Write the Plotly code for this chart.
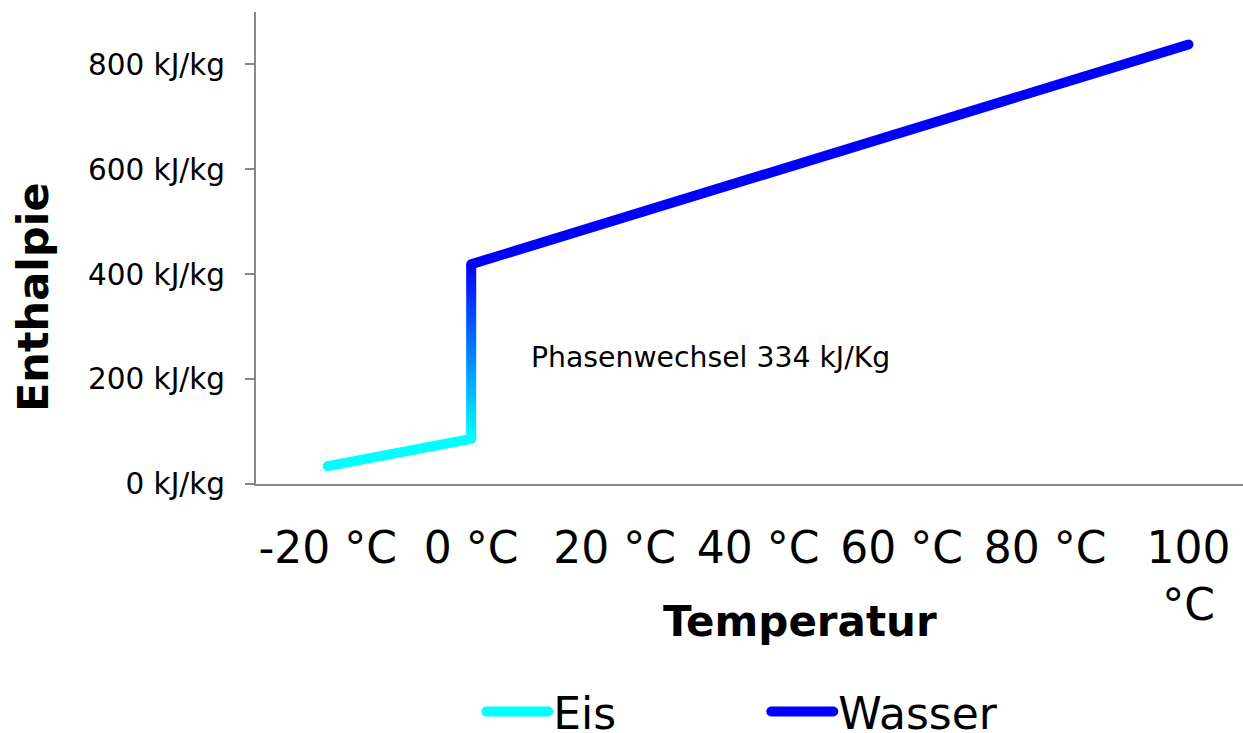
import plotly.graph_objects as go

# Temperatur (°C) und spezifische Enthalpie (kJ/kg)
eis_temp = [-20, 0]
eis_enthalpie = [34, 86]

wasser_temp = [0, 20, 40, 60, 80, 100]
wasser_enthalpie = [419, 503, 587, 670, 754, 838]

# Schmelzen bei 0 °C
phase_temp = [0, 0]
phase_enthalpie = [86, 419]

x_tickvals = [-20, 0, 20, 40, 60, 80, 100]
x_ticktext = ["-20 °C", "0 °C", "20 °C", "40 °C", "60 °C", "80 °C", "100<br>°C"]
y_tickvals = [0, 200, 400, 600, 800]
y_ticktext = ["0 kJ/kg", "200 kJ/kg", "400 kJ/kg", "600 kJ/kg", "800 kJ/kg"]

FONT = "DejaVu Sans"
AXIS_GREY = "#868686"
CYAN = "#00FFFF"
BLUE = "#0000FF"
LINE_W = 10

fig = go.Figure()

# Senkrechter Abschnitt als schmales Band mit Farbverlauf Cyan -> Blau
half_w = 0.7
px0, px1 = phase_temp
py0, py1 = phase_enthalpie
fig.add_trace(go.Scatter(
    x=[px0 - half_w, px0 + half_w, px1 + half_w, px1 - half_w, px0 - half_w],
    y=[py0, py0, py1, py1, py0],
    mode="lines",
    line=dict(width=0),
    fill="toself",
    fillgradient=dict(type="vertical", colorscale=[[0, CYAN], [1, BLUE]]),
    showlegend=False,
    hoverinfo="skip",
))

fig.add_trace(go.Scatter(
    x=eis_temp, y=eis_enthalpie, mode="lines", name="Eis",
    line=dict(color=CYAN, width=LINE_W),
))
fig.add_trace(go.Scatter(
    x=wasser_temp, y=wasser_enthalpie, mode="lines", name="Wasser",
    line=dict(color=BLUE, width=LINE_W),
))

fig.update_layout(
    width=1243,
    height=733,
    margin=dict(l=256, r=0, t=12, b=249, autoexpand=False),
    paper_bgcolor="white",
    plot_bgcolor="white",
    font=dict(family=FONT, color="black"),
    showlegend=True,
    legend=dict(
        orientation="h",
        x=0.517, xanchor="center",
        y=-0.483, yanchor="middle",
        font=dict(size=44, family=FONT),
        itemwidth=62,
        entrywidth=208,
        bgcolor="rgba(0,0,0,0)",
    ),
    xaxis=dict(
        range=[-30, 107.6],
        tickvals=x_tickvals,
        ticktext=x_ticktext,
        tickfont=dict(size=44, family=FONT),
        showgrid=False,
        zeroline=False,
        showline=True,
        linecolor=AXIS_GREY,
        linewidth=2,
        ticks="",
        ticklabelstandoff=24,
        automargin=False,
    ),
    yaxis=dict(
        range=[0, 900],
        tickvals=y_tickvals,
        ticktext=y_ticktext,
        tickfont=dict(size=29.5, family=FONT),
        showgrid=False,
        zeroline=False,
        showline=True,
        linecolor=AXIS_GREY,
        linewidth=2,
        ticks="outside",
        ticklen=9,
        tickcolor=AXIS_GREY,
        tickwidth=2,
        ticklabelstandoff=14,
        automargin=False,
    ),
    annotations=[
        dict(text="<b>Temperatur</b>", xref="paper", yref="paper",
             x=0.551, y=-0.292, xanchor="center", yanchor="middle",
             showarrow=False, font=dict(size=42, family=FONT)),
        dict(text="<b>Enthalpie</b>", xref="paper", yref="paper",
             x=-0.226, y=0.396, xanchor="center", yanchor="middle",
             textangle=-90, showarrow=False, font=dict(size=43, family=FONT)),
        dict(text="Phasenwechsel 334 kJ/Kg", xref="x", yref="y",
             x=8.1, y=242, xanchor="left", yanchor="middle",
             showarrow=False, font=dict(size=28.3, family=FONT)),
    ],
)

fig.write_html(
    "out.html",
    post_script=(
        "document.querySelectorAll('path.js-line').forEach(function(p){"
        "p.style.strokeLinecap='round';p.style.strokeLinejoin='round';});"
    ),
)
